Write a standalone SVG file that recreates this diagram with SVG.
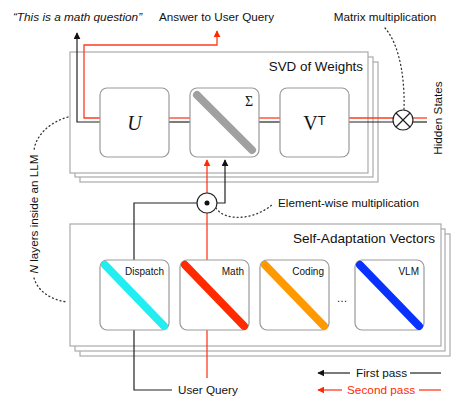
<svg xmlns="http://www.w3.org/2000/svg" width="465" height="406" viewBox="0 0 465 406">
<defs>
<style>
.frame{fill:#fff;stroke:#aaa;stroke-width:1.2}
.box{fill:#fff;stroke:#999;stroke-width:1.2}
.blk{fill:none;stroke:#222;stroke-width:1.2}
.red{fill:none;stroke:#ff3b1f;stroke-width:1.3}
.dot{fill:none;stroke:#333;stroke-width:1.3;stroke-dasharray:1 3;stroke-linecap:round}
.t{font-family:"Liberation Sans",Arial,sans-serif;fill:#111}
.diag{stroke-width:8;stroke-linecap:round}
</style>
<marker id="ab" viewBox="0 0 10 10" refX="9" refY="5" markerWidth="7" markerHeight="7" orient="auto" markerUnits="userSpaceOnUse"><path d="M0,0 L10,5 L0,10 z" fill="#111"/></marker>
<marker id="ar" viewBox="0 0 10 10" refX="9" refY="5" markerWidth="7" markerHeight="7" orient="auto" markerUnits="userSpaceOnUse"><path d="M0,0 L10,5 L0,10 z" fill="#ff2a00"/></marker>
</defs>
<rect width="465" height="406" fill="#fff"/>

<g id="svd-frame">
<rect class="frame" x="80" y="62" width="298" height="120"/>
<rect class="frame" x="75" y="57" width="298" height="120"/>
<rect class="frame" x="70" y="52" width="298" height="121"/>
<text class="t" x="363" y="71" font-size="13.4" text-anchor="end">SVD of Weights</text>
</g>

<g id="sav-frame">
<rect class="frame" x="80" y="234" width="370" height="122"/>
<rect class="frame" x="75" y="229" width="370" height="122"/>
<rect class="frame" x="70" y="224" width="371" height="122"/>
<text class="t" x="435" y="243" font-size="13.6" text-anchor="end">Self-Adaptation Vectors</text>
</g>

<g id="connectors">
<!-- first pass black -->
<polyline class="blk" points="100,122 77,122 77,33" marker-end="url(#ab)"/>
<line class="blk" x1="169" y1="122" x2="190" y2="122"/>
<line class="blk" x1="259" y1="122" x2="280" y2="122"/>
<line class="blk" x1="349" y1="122" x2="393" y2="122"/>
<line class="blk" x1="413" y1="122" x2="427" y2="122"/>
<polyline class="blk" points="134,260 134,203 197,203"/>
<polyline class="blk" points="217,203 225,203 225,160" marker-end="url(#ab)"/>
<polyline class="blk" points="134,330 134,390 172,390"/>
<!-- second pass red -->
<polyline class="red" points="100,118 84,118 84,45 217,45 217,31" marker-end="url(#ar)"/>
<line class="red" x1="169" y1="118" x2="190" y2="118"/>
<line class="red" x1="259" y1="118" x2="280" y2="118"/>
<line class="red" x1="349" y1="118" x2="394" y2="118"/>
<line class="red" x1="412" y1="118" x2="427" y2="118"/>
<line class="red" x1="207" y1="378" x2="207" y2="330"/>
<line class="red" x1="207" y1="260" x2="207" y2="213"/>
<line class="red" x1="207" y1="193" x2="207" y2="160" marker-end="url(#ar)"/>
<!-- dotted annotations -->
<path class="dot" d="M385,28 C400,45 405,80 404,109"/>
<path class="dot" d="M216,208 C225,222 255,220 273,204"/>
<path class="dot" d="M68,117 C50,122 36,135 34,150"/>
<path class="dot" d="M34,278 C38,292 52,300 67,302"/>
</g>

<g id="U">
<rect class="box" x="100" y="88" width="69" height="69" rx="7"/>
<text x="134.5" y="130" font-family="Liberation Serif,serif" font-style="italic" font-size="20" text-anchor="middle" fill="#111">U</text>
</g>
<g id="Sigma">
<rect class="box" x="190" y="88" width="69" height="69" rx="7"/>
<line class="diag" x1="197" y1="95" x2="252" y2="150" stroke="#a0a0a0"/>
<text x="249" y="106" font-family="Liberation Serif,serif" font-size="14" text-anchor="middle" fill="#111">Σ</text>
</g>
<g id="VT">
<rect class="box" x="280" y="88" width="69" height="69" rx="7"/>
<text x="314.5" y="130" font-family="Liberation Serif,serif" font-size="20" text-anchor="middle" fill="#111">V<tspan font-family="Liberation Sans,sans-serif" font-size="13" dy="-5">T</tspan></text>
</g>

<g id="matmul">
<circle cx="403" cy="120" r="10" fill="#fff" stroke="#222" stroke-width="1.2"/>
<line x1="396" y1="113" x2="410" y2="127" stroke="#222" stroke-width="1.2"/>
<line x1="410" y1="113" x2="396" y2="127" stroke="#222" stroke-width="1.2"/>
</g>
<g id="elemmul">
<circle cx="207" cy="203" r="10" fill="#fff" stroke="#222" stroke-width="1.2"/>
<circle cx="207" cy="203" r="2.5" fill="#111"/>
</g>

<g id="Dispatch">
<rect class="box" x="100" y="260" width="69" height="70" rx="7"/>
<line class="diag" x1="105" y1="265" x2="164" y2="326" stroke="#22eef2"/>
<text class="t" x="164" y="275" font-size="10" text-anchor="end">Dispatch</text>
</g>
<g id="Math">
<rect class="box" x="180" y="260" width="69" height="70" rx="7"/>
<line class="diag" x1="185" y1="265" x2="244" y2="326" stroke="#ff2a00"/>
<text class="t" x="244" y="275" font-size="10" text-anchor="end">Math</text>
</g>
<g id="Coding">
<rect class="box" x="260" y="260" width="69" height="70" rx="7"/>
<line class="diag" x1="265" y1="265" x2="324" y2="326" stroke="#ff9900"/>
<text class="t" x="324" y="275" font-size="10" text-anchor="end">Coding</text>
</g>
<text class="t" x="342" y="302" font-size="11" text-anchor="middle">…</text>
<g id="VLM">
<rect class="box" x="355" y="260" width="69" height="70" rx="7"/>
<line class="diag" x1="360" y1="265" x2="419" y2="326" stroke="#0a32ff"/>
<text class="t" x="419" y="275" font-size="10" text-anchor="end">VLM</text>
</g>

<g id="labels">
<text class="t" x="77.5" y="21" font-size="11.8" font-style="italic" text-anchor="middle">“This is a math question”</text>
<text class="t" x="216.5" y="21" font-size="11.7" text-anchor="middle">Answer to User Query</text>
<text class="t" x="385" y="21" font-size="11.7" text-anchor="middle">Matrix multiplication</text>
<text class="t" x="278" y="207" font-size="11.7">Element-wise multiplication</text>
<text class="t" x="178" y="394" font-size="11.7">User Query</text>
<text class="t" font-size="11.7" transform="translate(442,118) rotate(-90)" text-anchor="middle">Hidden States</text>
<text class="t" font-size="11.7" transform="translate(38,214) rotate(-90)" text-anchor="middle"><tspan font-style="italic">N</tspan> layers inside an LLM</text>
</g>

<g id="legend">
<line class="blk" x1="350" y1="373" x2="318" y2="373" marker-end="url(#ab)"/>
<text class="t" x="356" y="377" font-size="11.8">First pass</text>
<line class="blk" x1="410" y1="373" x2="441" y2="373"/>
<line class="red" x1="342" y1="390" x2="318" y2="390" marker-end="url(#ar)"/>
<text x="347" y="394" font-size="11.8" font-family="Liberation Sans,Arial,sans-serif" fill="#ff2a00">Second pass</text>
<line class="red" x1="419" y1="390" x2="441" y2="390"/>
</g>
</svg>
